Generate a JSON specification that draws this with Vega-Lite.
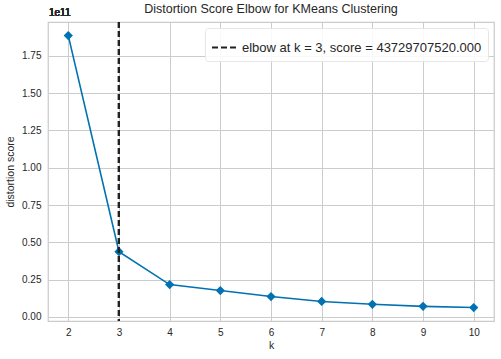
{
  "$schema": "https://vega.github.io/schema/vega-lite/v6.json",
  "width": 446,
  "height": 299,
  "autosize": "none",
  "padding": {"left": 48, "top": 22, "right": 7, "bottom": 38},
  "background": "white",
  "config": {
    "font": "Liberation Sans",
    "view": {"stroke": "#cccccc", "strokeWidth": 1.25},
    "axis": {
      "gridColor": "#cccccc",
      "gridWidth": 1,
      "domain": false,
      "ticks": false,
      "labelFont": "Liberation Sans",
      "labelFontSize": 10,
      "labelColor": "#262626",
      "titleFont": "Liberation Sans",
      "titleFontSize": 10.5,
      "titleFontWeight": "normal",
      "titleColor": "#262626"
    },
    "title": {"font": "Liberation Sans", "fontSize": 12.5, "fontWeight": "normal", "color": "#262626"}
  },
  "title": {"text": "Distortion Score Elbow for KMeans Clustering", "offset": -7},
  "data": {
    "values": [
      {"k": 2, "score": 1.885},
      {"k": 3, "score": 0.4373},
      {"k": 4, "score": 0.217},
      {"k": 5, "score": 0.177},
      {"k": 6, "score": 0.137},
      {"k": 7, "score": 0.104},
      {"k": 8, "score": 0.085},
      {"k": 9, "score": 0.071},
      {"k": 10, "score": 0.063}
    ]
  },
  "layer": [
    {
      "mark": {"type": "line", "color": "#0072B2", "strokeWidth": 1.6,
        "point": {"shape": "diamond", "size": 85, "filled": true, "color": "#0072B2", "opacity": 1}},
      "encoding": {
        "x": {"field": "k", "type": "quantitative",
          "scale": {"domain": [1.6, 10.4], "nice": false, "zero": false},
          "axis": {"values": [2,3,4,5,6,7,8,9,10], "title": "k", "labelPadding": 6, "titlePadding": 3, "titleColor": "#262626"}},
        "y": {"field": "score", "type": "quantitative",
          "scale": {"domain": [-0.027, 1.976], "nice": false, "zero": false},
          "axis": {"values": [0, 0.25, 0.5, 0.75, 1.0, 1.25, 1.5, 1.75], "format": ".2f", "title": "distortion score", "labelPadding": 7, "titlePadding": 6, "titleColor": "#262626"}}
      }
    },
    {
      "mark": {"type": "rule", "strokeDash": [6, 3], "strokeWidth": 2},
      "encoding": {
        "x": {"datum": 3, "type": "quantitative"},
        "stroke": {
          "datum": "elbow at k = 3, score = 43729707520.000",
          "type": "nominal",
          "scale": {"range": ["#222222"]},
          "legend": {
            "title": null,
            "orient": "top-right",
            "offset": 6,
            "symbolType": "stroke",
            "symbolDash": [6, 3],
            "symbolStrokeWidth": 2,
            "symbolSize": 625,
            "labelFont": "Liberation Sans",
            "labelFontSize": 13,
            "labelColor": "#262626",
            "labelLimit": 400,
            "fillColor": "rgba(255,255,255,0.85)",
            "strokeColor": "#e6e6e6",
            "cornerRadius": 3,
            "padding": 6
          }
        }
      }
    },
    {
      "mark": {"type": "text", "align": "left", "baseline": "bottom", "dy": -4, "dx": 1, "fontSize": 10, "color": "#262626"},
      "encoding": {
        "x": {"datum": 1.6, "type": "quantitative"},
        "y": {"datum": 1.976, "type": "quantitative"},
        "text": {"value": "1e11"}
      }
    }
  ]
}
